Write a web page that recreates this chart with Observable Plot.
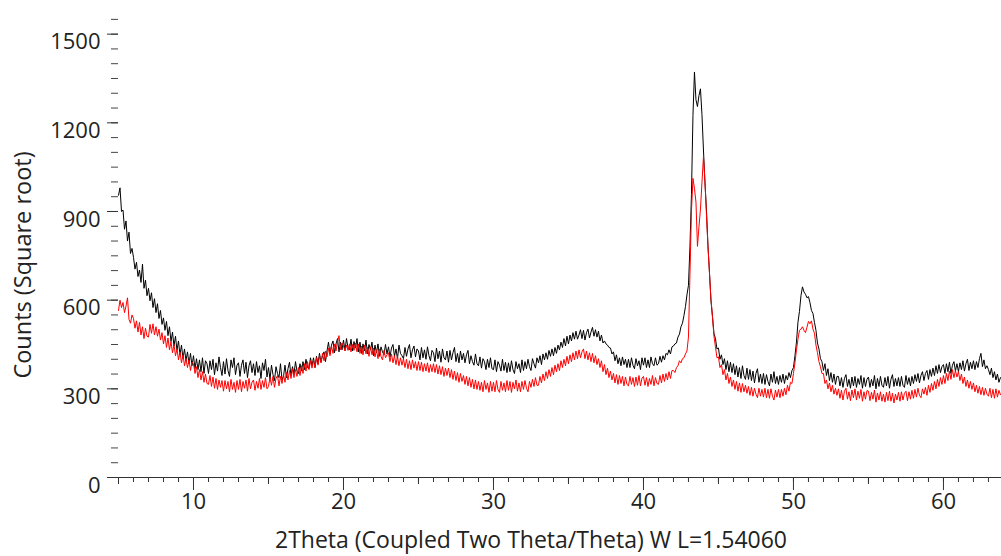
<!DOCTYPE html>
<html>
<head>
<meta charset="utf-8">
<script src="https://cdn.jsdelivr.net/npm/d3@7"></script>
<script src="https://cdn.jsdelivr.net/npm/@observablehq/plot@0.6"></script>
<style>
  html, body { margin: 0; padding: 0; background: #fff; }
  #chart { width: 1001px; height: 556px; }
</style>
</head>
<body>
<div id="chart"></div>
<script>
// 2Theta sampling positions (degrees)
const twoTheta = [
  5.0,5.1,5.2,5.3,5.4,5.5,5.6,5.7,5.8,5.9,
  6.0,6.1,6.2,6.3,6.4,6.5,6.6,6.7,6.8,6.9,
  7.0,7.1,7.2,7.3,7.4,7.5,7.6,7.7,7.8,7.9,
  8.0,8.1,8.2,8.3,8.4,8.5,8.6,8.7,8.8,8.9,
  9.0,9.1,9.2,9.3,9.4,9.5,9.6,9.7,9.8,9.9,
  10.0,10.1,10.2,10.3,10.4,10.5,10.6,10.7,10.8,10.9,
  11.0,11.1,11.2,11.3,11.4,11.5,11.6,11.7,11.8,11.9,
  12.0,12.1,12.2,12.3,12.4,12.5,12.6,12.7,12.8,12.9,
  13.0,13.1,13.2,13.3,13.4,13.5,13.6,13.7,13.8,13.9,
  14.0,14.1,14.2,14.3,14.4,14.5,14.6,14.7,14.8,14.9,
  15.0,15.1,15.2,15.3,15.4,15.5,15.6,15.7,15.8,15.9,
  16.0,16.1,16.2,16.3,16.4,16.5,16.6,16.7,16.8,16.9,
  17.0,17.1,17.2,17.3,17.4,17.5,17.6,17.7,17.8,17.9,
  18.0,18.1,18.2,18.3,18.4,18.5,18.6,18.7,18.8,18.9,
  19.0,19.1,19.2,19.3,19.4,19.5,19.6,19.7,19.8,19.9,
  20.0,20.1,20.2,20.3,20.4,20.5,20.6,20.7,20.8,20.9,
  21.0,21.1,21.2,21.3,21.4,21.5,21.6,21.7,21.8,21.9,
  22.0,22.1,22.2,22.3,22.4,22.5,22.6,22.7,22.8,22.9,
  23.0,23.1,23.2,23.3,23.4,23.5,23.6,23.7,23.8,23.9,
  24.0,24.1,24.2,24.3,24.4,24.5,24.6,24.7,24.8,24.9,
  25.0,25.1,25.2,25.3,25.4,25.5,25.6,25.7,25.8,25.9,
  26.0,26.1,26.2,26.3,26.4,26.5,26.6,26.7,26.8,26.9,
  27.0,27.1,27.2,27.3,27.4,27.5,27.6,27.7,27.8,27.9,
  28.0,28.1,28.2,28.3,28.4,28.5,28.6,28.7,28.8,28.9,
  29.0,29.1,29.2,29.3,29.4,29.5,29.6,29.7,29.8,29.9,
  30.0,30.1,30.2,30.3,30.4,30.5,30.6,30.7,30.8,30.9,
  31.0,31.1,31.2,31.3,31.4,31.5,31.6,31.7,31.8,31.9,
  32.0,32.1,32.2,32.3,32.4,32.5,32.6,32.7,32.8,32.9,
  33.0,33.1,33.2,33.3,33.4,33.5,33.6,33.7,33.8,33.9,
  34.0,34.1,34.2,34.3,34.4,34.5,34.6,34.7,34.8,34.9,
  35.0,35.1,35.2,35.3,35.4,35.5,35.6,35.7,35.8,35.9,
  36.0,36.1,36.2,36.3,36.4,36.5,36.6,36.7,36.8,36.9,
  37.0,37.1,37.2,37.3,37.4,37.5,37.6,37.7,37.8,37.9,
  38.0,38.1,38.2,38.3,38.4,38.5,38.6,38.7,38.8,38.9,
  39.0,39.1,39.2,39.3,39.4,39.5,39.6,39.7,39.8,39.9,
  40.0,40.1,40.2,40.3,40.4,40.5,40.6,40.7,40.8,40.9,
  41.0,41.1,41.2,41.3,41.4,41.5,41.6,41.7,41.8,41.9,
  42.0,42.1,42.2,42.3,42.4,42.5,42.6,42.7,42.8,42.9,
  43.0,43.1,43.2,43.3,43.4,43.5,43.6,43.7,43.8,43.9,
  44.0,44.1,44.2,44.3,44.4,44.5,44.6,44.7,44.8,44.9,
  45.0,45.1,45.2,45.3,45.4,45.5,45.6,45.7,45.8,45.9,
  46.0,46.1,46.2,46.3,46.4,46.5,46.6,46.7,46.8,46.9,
  47.0,47.1,47.2,47.3,47.4,47.5,47.6,47.7,47.8,47.9,
  48.0,48.1,48.2,48.3,48.4,48.5,48.6,48.7,48.8,48.9,
  49.0,49.1,49.2,49.3,49.4,49.5,49.6,49.7,49.8,49.9,
  50.0,50.1,50.2,50.3,50.4,50.5,50.6,50.7,50.8,50.9,
  51.0,51.1,51.2,51.3,51.4,51.5,51.6,51.7,51.8,51.9,
  52.0,52.1,52.2,52.3,52.4,52.5,52.6,52.7,52.8,52.9,
  53.0,53.1,53.2,53.3,53.4,53.5,53.6,53.7,53.8,53.9,
  54.0,54.1,54.2,54.3,54.4,54.5,54.6,54.7,54.8,54.9,
  55.0,55.1,55.2,55.3,55.4,55.5,55.6,55.7,55.8,55.9,
  56.0,56.1,56.2,56.3,56.4,56.5,56.6,56.7,56.8,56.9,
  57.0,57.1,57.2,57.3,57.4,57.5,57.6,57.7,57.8,57.9,
  58.0,58.1,58.2,58.3,58.4,58.5,58.6,58.7,58.8,58.9,
  59.0,59.1,59.2,59.3,59.4,59.5,59.6,59.7,59.8,59.9,
  60.0,60.1,60.2,60.3,60.4,60.5,60.6,60.7,60.8,60.9,
  61.0,61.1,61.2,61.3,61.4,61.5,61.6,61.7,61.8,61.9,
  62.0,62.1,62.2,62.3,62.4,62.5,62.6,62.7,62.8,62.9,
  63.0,63.1,63.2,63.3,63.4,63.5,63.6,63.7,63.8
];

// Black pattern (counts)
const blackCounts = [
  955,980,900,905,840,868,800,830,758,775,
  745,705,728,680,702,660,722,640,668,615,
  640,598,625,575,605,558,588,538,565,518,
  540,498,528,480,510,460,492,445,478,430,
  462,415,448,402,435,395,425,385,420,378,
  412,368,402,365,398,358,405,352,395,385,
  352,395,365,400,348,388,360,408,372,345,
  392,350,402,362,342,398,372,405,348,380,
  388,342,380,398,352,390,338,378,395,355,
  385,345,392,355,378,335,388,362,400,340,
  372,332,380,348,328,375,352,338,385,330,
  342,380,338,368,390,345,375,350,392,360,
  352,385,360,392,365,400,372,368,405,378,
  405,372,410,385,420,390,412,425,392,428,
  458,418,448,462,422,452,470,425,458,432,
  465,430,470,440,432,468,428,460,438,470,
  425,458,420,452,428,465,418,450,432,458,
  412,448,422,452,410,442,425,415,450,418,
  442,408,438,450,410,435,402,448,420,412,
  402,440,410,435,450,405,432,445,408,435,
  428,398,440,405,432,400,442,412,395,430,
  422,392,438,402,428,390,435,405,398,428,
  390,430,398,422,440,392,420,388,428,398,
  420,388,415,430,385,412,392,380,418,385,
  378,408,370,402,392,365,400,372,405,368,
  365,398,358,392,380,360,400,362,390,355,
  388,358,395,365,352,392,368,385,355,398,
  362,392,368,400,375,362,402,385,370,405,
  388,412,382,418,398,422,400,430,410,435,
  412,440,420,448,432,458,440,470,445,478,
  452,482,462,490,468,495,468,482,500,470,
  498,465,490,502,472,492,508,478,500,475,
  495,462,482,455,462,452,448,440,438,418,
  425,395,415,385,405,378,408,382,400,372,
  400,372,405,380,368,402,378,395,365,405,
  380,405,372,398,372,408,385,378,405,380,
  385,410,390,412,398,420,415,432,418,442,
  445,452,455,475,485,510,522,548,578,618,
  650,782,958,1225,1372,1278,1255,1292,1315,1228,
  1108,998,905,785,695,598,545,488,470,435,
  438,400,415,382,402,365,395,358,390,355,
  385,348,378,340,372,335,378,345,332,370,
  332,365,328,360,320,352,368,322,350,318,
  352,315,348,325,310,350,322,358,318,342,
  315,345,322,350,318,345,330,355,338,362,
  372,412,458,525,562,615,645,628,620,608,
  612,592,565,555,525,498,455,435,402,392,
  362,385,345,368,328,355,322,350,315,342,
  342,310,338,305,335,348,308,332,302,340,
  310,342,305,335,315,345,302,338,308,332,
  340,305,332,310,345,300,335,308,342,312,
  305,338,310,342,302,332,348,308,335,310,
  338,308,342,312,305,345,315,338,310,342,
  318,348,325,352,320,345,358,328,352,362,
  332,365,342,370,345,378,352,382,355,375,
  382,352,385,358,390,352,380,392,360,385,
  358,388,365,395,360,385,400,362,390,368,
  395,365,392,372,402,420,375,398,368,378,
  365,348,370,338,358,330,350,322,338
];

// Red pattern (counts)
const redCounts = [
  565,600,575,592,558,580,608,535,522,550,
  538,505,530,492,525,482,510,470,505,478,
  475,518,488,520,482,510,478,502,465,490,
  452,480,440,472,432,460,422,450,412,435,
  398,425,388,415,378,402,372,398,362,390,
  385,352,375,338,365,330,358,322,350,318,
  315,345,308,340,302,335,298,330,305,328,
  292,328,300,325,290,332,298,322,288,328,
  298,332,290,325,302,330,292,335,300,322,
  330,295,325,302,335,298,328,305,338,300,
  308,338,312,342,305,335,345,310,342,318,
  348,322,355,330,362,335,368,338,365,342,
  372,345,378,352,385,360,392,365,395,370,
  398,372,405,380,412,388,420,395,428,408,
  438,412,445,420,452,428,458,480,432,455,
  445,428,448,430,452,425,450,430,455,425,
  452,420,445,415,448,418,440,410,442,415,
  438,408,432,402,435,410,398,430,405,415,
  422,392,418,388,412,382,410,378,405,380,
  402,372,400,368,395,365,398,370,392,362,
  392,362,390,358,385,360,388,355,382,358,
  385,355,382,350,378,348,375,342,370,345,
  370,338,365,332,360,328,355,322,352,325,
  345,315,342,310,338,305,332,300,330,298,
  325,295,322,290,328,298,320,288,325,292,
  322,290,328,298,288,325,295,320,290,328,
  295,325,288,322,300,330,292,320,290,325,
  298,328,302,290,325,305,332,308,338,312,
  312,342,320,350,328,358,335,365,342,372,
  348,380,358,385,362,395,372,400,378,410,
  385,415,392,422,398,428,402,432,405,425,
  435,402,428,398,422,392,420,388,412,382,
  402,372,395,358,382,348,370,338,360,330,
  352,320,348,315,345,318,342,310,340,315,
  310,342,315,338,308,340,312,345,310,336,
  342,312,338,308,335,315,345,310,338,318,
  315,345,320,350,325,352,330,358,335,362,
  362,355,372,378,395,388,402,405,418,428,
  475,688,902,1012,978,932,782,848,908,998,
  1085,1002,888,782,692,605,545,478,442,405,
  408,372,382,348,365,330,352,318,340,308,
  330,298,325,292,320,288,318,290,312,285,
  308,278,305,275,302,282,270,302,275,298,
  272,302,270,298,268,300,275,262,296,272,
  298,270,298,275,302,280,312,292,322,318,
  352,388,432,468,498,502,510,498,490,508,
  528,520,530,502,488,448,422,392,375,352,
  352,318,330,300,320,290,312,282,302,278,
  300,268,295,262,292,302,265,290,260,296,
  270,300,262,292,268,298,258,290,265,294,
  292,260,288,265,296,255,286,262,290,258,
  282,255,288,260,292,258,285,252,282,262,
  288,258,290,262,285,292,260,290,265,295,
  268,298,272,302,278,270,300,282,305,278,
  312,288,318,295,325,300,332,308,338,315,
  345,318,352,328,360,332,365,338,362,340,
  358,328,350,318,340,308,330,302,325,298,
  320,290,312,285,308,280,305,278,302,282,
  275,302,270,298,268,300,272,295,280
];

// Axis ticks and labels
const yMajorTicks = [0, 300, 600, 900, 1200, 1500];
const yMinorTicks = d3.range(0, 1551, 50);
const xMajorTicks = [10, 20, 30, 40, 50, 60];
const xMidTicks = [5, 15, 25, 35, 45, 55];
const xMinorTicks = d3.range(5, 64, 1);
const xTitle = "2Theta (Coupled Two Theta/Theta) W L=1.54060";
const yTitle = "Counts (Square root)";

const black = twoTheta.map((t, i) => ({t, c: blackCounts[i]}));
const red = twoTheta.map((t, i) => ({t, c: redCounts[i]}));

const chart = Plot.plot({
  width: 1001,
  height: 556,
  marginLeft: 118,
  marginRight: 0,
  marginTop: 10,
  marginBottom: 79,
  x: {domain: [5, 63.87]},
  y: {domain: [0, 1580]},
  style: {fontFamily: "'Open Sans', sans-serif", fontSize: "22px", color: "#222", background: "#fff"},
  marks: [
    Plot.axisY(yMinorTicks, {tickSize: 7, tickFormat: () => "", stroke: "#444", label: null}),
    Plot.axisY(yMajorTicks, {tickSize: 11, tickFormat: () => "", stroke: "#333", label: null}),
    Plot.axisY(yMajorTicks, {tickSize: 0, tickPadding: 18, dy: 8, tickFormat: d3.format("d"), label: null}),
    Plot.axisX(xMinorTicks, {tickSize: 5, tickFormat: () => "", stroke: "#333", label: null}),
    Plot.axisX(xMidTicks, {tickSize: 7, tickFormat: () => "", stroke: "#333", label: null}),
    Plot.axisX(xMajorTicks, {tickSize: 13, tickPadding: 3, tickFormat: d3.format("d"), stroke: "#333", label: null}),
    Plot.ruleY([0], {stroke: "#333", strokeWidth: 1.2}),
    Plot.line(black, {x: "t", y: "c", stroke: "#000", strokeWidth: 1}),
    Plot.line(red, {x: "t", y: "c", stroke: "#ff0000", strokeWidth: 1}),
    Plot.text([yTitle], {frameAnchor: "left", dx: -95, dy: 21, rotate: -90, textAnchor: "middle", lineAnchor: "middle", fill: "#222", fontSize: 23.5}),
    Plot.text([xTitle], {frameAnchor: "bottom", dx: -29, dy: 63, textAnchor: "middle", lineAnchor: "middle", fill: "#222", fontSize: 23})
  ]
});

document.getElementById("chart").appendChild(chart);
</script>
</body>
</html>
